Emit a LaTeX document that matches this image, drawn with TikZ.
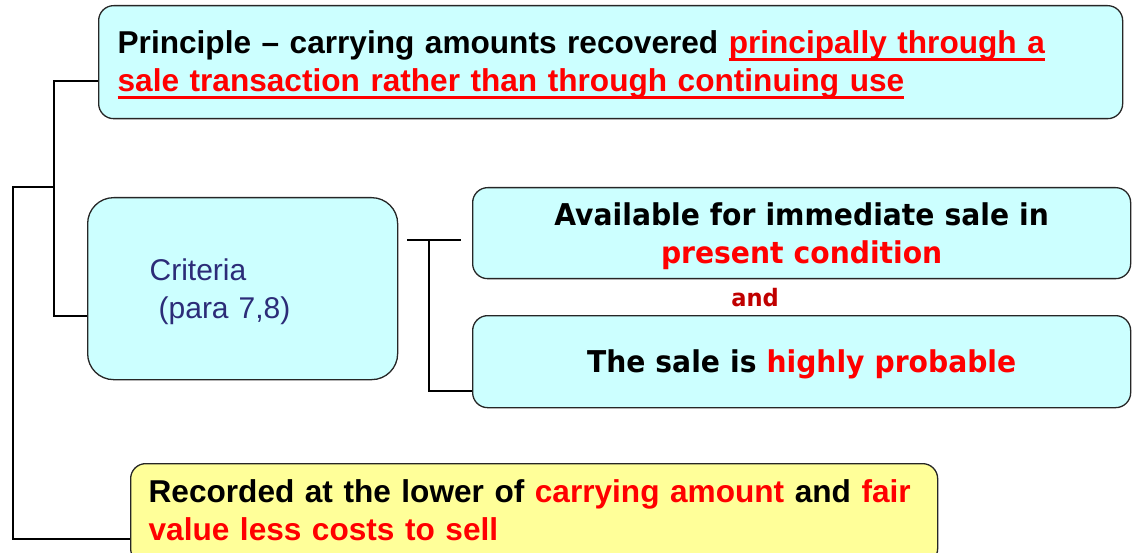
\documentclass[tikz,border=0pt]{standalone}
\usepackage{fontspec}
\setmainfont{Liberation Sans}
\newfontfamily\verdfont{DejaVu Sans}[FakeStretch=0.94]
\usetikzlibrary{calc}

\definecolor{boxcyan}{HTML}{CCFFFF}
\definecolor{boxyellow}{HTML}{FFFF99}
\definecolor{boxline}{HTML}{262626}
\definecolor{navytext}{RGB}{44,44,120}
\definecolor{andred}{HTML}{C00000}

% red text with a thick red underline
\newsavebox\ulinebox
\newcommand\redul[1]{\leavevmode\sbox\ulinebox{\color{red}#1}%
  \rlap{\color{red}\rule[-7pt]{\wd\ulinebox}{3pt}}\usebox\ulinebox}

\tikzset{
  box/.style={draw=boxline, line width=1.3pt, fill=boxcyan, anchor=north west,
    inner sep=0pt, rounded corners=15pt},
  boxtext/.style={inner sep=0pt},
  wire/.style={line width=2.2pt, black},
  arialbig/.style={font=\fontsize{31.6}{38}\selectfont\bfseries},
  verdbig/.style={font=\verdfont\bfseries\fontsize{30}{38}\selectfont},
}

\begin{document}
\begin{tikzpicture}[x=1pt,y=-1pt]
\useasboundingbox (0,0) rectangle (1132,553);
\clip (0,0) rectangle (1132,553);

% boxes
\node[box, minimum width=1024pt, minimum height=113pt] (principle) at (98,5) {};
\node[box, rounded corners=26pt, minimum width=310pt, minimum height=182pt] (criteria) at (87,197) {};
\node[box, minimum width=658pt, minimum height=91pt] (availA) at (472,187) {};
\node[box, minimum width=658pt, minimum height=92pt] (saleB) at (472,315) {};
\node[box, fill=boxyellow, minimum width=807pt, minimum height=100pt] (record) at (130,463) {};

% texts
\node[boxtext, arialbig, text width=986pt, align=left] (principleText)
  at ([yshift=-2.5pt]principle.center)
  {Principle \textendash{} carrying amounts recovered \redul{principally through a}\\
   \redul{sale transaction rather than through continuing use}};

\node[boxtext, text width=186pt, align=left, text=navytext,
      font=\fontsize{30}{38}\selectfont] (criteriaText)
  at ([yshift=-3pt]criteria.center)
  {Criteria\\\hspace*{9pt}(para 7,8)};

\node[boxtext, verdbig, text width=640pt, align=center] (availText)
  at ([yshift=-3pt]availA.center)
  {Available for immediate sale in\\\textcolor{red}{present condition}};

\node[anchor=base, inner sep=0pt, text=andred,
      font=\verdfont\bfseries\fontsize{24}{26}\selectfont] (andword) at (755,306.5) {and};

\node[boxtext, verdbig, text width=640pt, align=center] (saleText)
  at ([yshift=-3pt]saleB.center)
  {The sale is \textcolor{red}{highly probable}};

\node[boxtext, arialbig, text width=771pt, align=left] (recordText)
  at ([yshift=3.5pt]record.center)
  {Recorded at the lower of \textcolor{red}{carrying amount} and \textcolor{red}{fair}\hspace*{-30pt}\\
   \textcolor{red}{value less costs to sell}};

% tree connectors
\coordinate (spine) at (54,187);
\coordinate (outer) at (13,187);
\draw[wire] ([yshift=-18.5pt]principle.west) -| (spine) |- ([yshift=-27pt]criteria.west);
\draw[wire] (spine) -- (outer) |- ([yshift=-25pt]record.west);

% bracket joining the criteria
\coordinate (forkL) at (407,240);
\coordinate (forkR) at (461,240);
\coordinate (fork) at (429,240);
\draw[wire] (forkL) -- (forkR);
\draw[wire] (fork) |- ([yshift=-29pt]saleB.west);
\end{tikzpicture}
\end{document}
